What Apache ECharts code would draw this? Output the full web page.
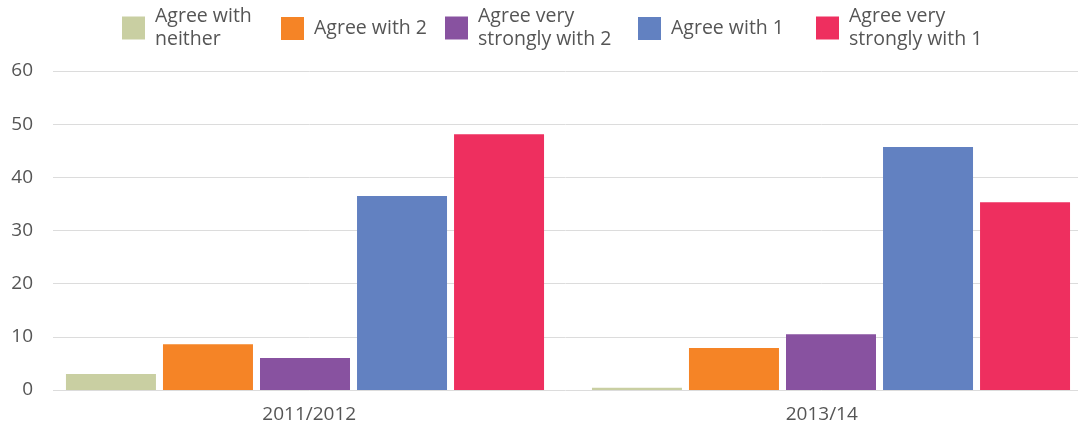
<!DOCTYPE html>
<html>
<head>
<meta charset="utf-8">
<script src="https://cdn.jsdelivr.net/npm/echarts@6/dist/echarts.min.js"></script>
<style>
  html, body { margin: 0; padding: 0; background: #fff; overflow: hidden; }
  #chart { width: 1094px; height: 429px; }
</style>
</head>
<body>
<div id="chart"></div>
<script>
// Survey responses by wave
const categories = ['2011/2012', '2013/14'];
const seriesNames = ['Agree with neither', 'Agree with 2', 'Agree very strongly with 2', 'Agree with 1', 'Agree very strongly with 1'];
const legendLabels = ['Agree with\nneither', 'Agree with 2', 'Agree very\nstrongly with 2', 'Agree with 1', 'Agree very\nstrongly with 1'];
const agreeNeither = [3.0, 0.4];
const agreeWith2 = [8.6, 7.9];
const agreeVeryStrongly2 = [6.0, 10.5];
const agreeWith1 = [36.5, 45.7];
const agreeVeryStrongly1 = [48.1, 35.3];
const yTicks = [0, 10, 20, 30, 40, 50, 60];

const seriesValues = [agreeNeither, agreeWith2, agreeVeryStrongly2, agreeWith1, agreeVeryStrongly1];
const colors = ['#C9CFA2', '#F58426', '#8852A0', '#6281C1', '#EE2F5F'];

const FONT = '"Open Sans", "Noto Sans", sans-serif';
const TEXT_COLOR = '#555555';

// one legend block per entry so each sits at its own spot
const legendLeft = [122, 281, 445, 638, 816];
const legendTop = [5, 17, 5, 17, 5];
const legends = seriesNames.map((name, i) => ({
  data: [name],
  left: legendLeft[i],
  top: legendTop[i],
  padding: 0,
  icon: 'rect',
  itemWidth: 23,
  itemHeight: 23,
  selectedMode: false,
  formatter: () => legendLabels[i],
  textStyle: {
    fontFamily: FONT,
    fontSize: 19.5,
    color: TEXT_COLOR,
    lineHeight: 23,
    padding: [0, 0, 0, 5]
  }
}));

const yMin = yTicks[0];
const yMax = yTicks[yTicks.length - 1];
const yStep = yTicks[1] - yTicks[0];

const chart = echarts.init(document.getElementById('chart'), null, { renderer: 'canvas' });
chart.setOption({
  animation: false,
  color: colors,
  legend: legends,
  grid: [
    // axes, labels and gridlines
    { left: 53, right: 16, top: 71, bottom: 39 },
    // bars (run slightly past the visible right edge)
    { left: 42, right: 0, top: 71, bottom: 39 }
  ],
  xAxis: [
    {
      gridIndex: 0,
      type: 'category',
      data: categories,
      axisLine: { show: false },
      axisTick: { show: false },
      axisLabel: { fontFamily: FONT, fontSize: 19, color: TEXT_COLOR, margin: 15 }
    },
    {
      gridIndex: 1,
      type: 'category',
      data: categories,
      show: false
    }
  ],
  yAxis: [
    {
      gridIndex: 0,
      type: 'value',
      min: yMin,
      max: yMax,
      interval: yStep,
      axisLine: { show: false },
      axisTick: { show: false },
      axisLabel: { fontFamily: FONT, fontSize: 19, color: TEXT_COLOR, margin: 20 },
      splitLine: { lineStyle: { color: '#DCDCDC', width: 1 } }
    },
    {
      gridIndex: 1,
      type: 'value',
      min: yMin,
      max: yMax,
      interval: yStep,
      show: false,
      splitLine: { show: false }
    }
  ],
  series: seriesNames.map((name, i) => ({
    name: name,
    type: 'bar',
    xAxisIndex: 1,
    yAxisIndex: 1,
    data: seriesValues[i],
    barWidth: 90,
    barGap: '7.8%',
    itemStyle: { color: colors[i] }
  }))
});
</script>
</body>
</html>
